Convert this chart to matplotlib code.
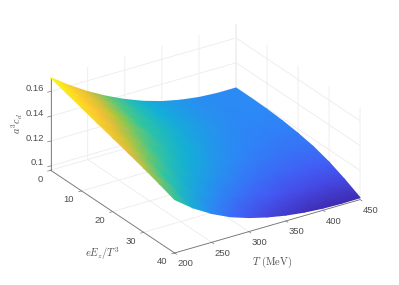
import numpy as np
import matplotlib
matplotlib.use('Agg')
import matplotlib.pyplot as plt
from matplotlib.colors import LinearSegmentedColormap
from mpl_toolkits.mplot3d import proj3d

plt.rcParams['font.family'] = ['Liberation Sans', 'DejaVu Sans']
plt.rcParams['mathtext.fontset'] = 'cm'

T = [200, 225, 250, 275, 300, 325, 350, 375, 400, 425, 450]
E = [0, 5, 10, 15, 20, 25, 30, 35, 40]
# rows = E, columns = T
cd_e0 = [.1710, .1605, .1512, .1432, .1363, .1305, .1260, .1228, .1207, .1197, .1197]
cd_e5 = [.1672, .1574, .1489, .1415, .1352, .1298, .1255, .1225, .1205, .1196, .1196]
cd_e10 = [.1635, .1542, .1464, .1395, .1338, .1288, .1248, .1219, .1200, .1192, .1192]
cd_e15 = [.1597, .1508, .1435, .1371, .1319, .1271, .1234, .1207, .1189, .1181, .1182]
cd_e20 = [.1560, .1474, .1404, .1342, .1293, .1249, .1214, .1188, .1172, .1164, .1165]
cd_e25 = [.1522, .1435, .1366, .1306, .1260, .1218, .1185, .1161, .1146, .1139, .1140]
cd_e30 = [.1483, .1392, .1320, .1259, .1212, .1172, .1141, .1118, .1105, .1098, .1100]
cd_e35 = [.1441, .1342, .1263, .1198, .1150, .1111, .1082, .1061, .1048, .1043, .1045]
cd_e40 = [.1395, .1285, .1197, .1128, .1078, .1040, .1012, .0993, .0982, .0978, .0980]

T_ticks = [200, 250, 300, 350, 400, 450]
E_ticks = [0, 10, 20, 30, 40]
cd_ticks = [0.1, 0.12, 0.14, 0.16]
cd_ticklabels = ['0.1', '0.12', '0.14', '0.16']

parula = LinearSegmentedColormap.from_list('parula', [
    (0.0, (.2422, .1504, .6603)), (0.14, (.2810, .3228, .9579)),
    (0.30, (.1786, .5289, .9682)), (0.45, (.0689, .6948, .8394)),
    (0.58, (.2161, .7843, .5923)), (0.67, (.6720, .7793, .2227)),
    (0.76, (.9970, .7259, .2199)), (1.0, (.9769, .9839, .0805))])

Z = np.array([cd_e0, cd_e5, cd_e10, cd_e15, cd_e20, cd_e25, cd_e30, cd_e35, cd_e40])
X, Y = np.meshgrid(T, E)
z_lo, z_hi = 0.0965, 0.171
text_col = '#4d4d4d'

fig = plt.figure(figsize=(3.99, 2.85), dpi=100)
ax = fig.add_axes([0.005, 0, 1, 1], projection='3d', proj_type='ortho')
ax.view_init(elev=26, azim=-123.3)
ax.set_box_aspect((222, 226, 103), zoom=1.134)
ax.set_xlim(200, 450)
ax.set_ylim(40, 0)
ax.set_zlim(z_lo, z_hi)
ax.set_xticks(T_ticks)
ax.set_yticks(E_ticks)
ax.set_zticks(cd_ticks)
ax.set_xticklabels([])
ax.set_yticklabels([])
ax.set_zticklabels([])
ax.tick_params(color='#777777', width=0.5)
for a in (ax.xaxis, ax.yaxis, ax.zaxis):
    a.set_pane_color((1, 1, 1, 0))
    a.pane.set_edgecolor((1, 1, 1, 0))
    a.line.set_color('#707070')
    a.line.set_linewidth(0.6)
    a._axinfo['grid'].update(color='#ececec', linewidth=0.6)
    a._axinfo['tick'].update(inward_factor=0.2, outward_factor=0.0, linewidth={True: 0.5, False: 0.5})


def to_pixels(xs, ys, zs):
    # data -> top-left pixel coordinates of the figure
    px, py, _ = proj3d.proj_transform(np.ravel(xs).astype(float), np.ravel(ys).astype(float),
                                      np.ravel(zs).astype(float), ax.get_proj())
    d = ax.transData.transform(np.column_stack([px, py]))
    return d[:, 0], 285 - d[:, 1]


# the surface goes on a pixel overlay so it can be gouraud shaded
fig.canvas.draw()
sx, sy = to_pixels(X, Y, Z)
over = fig.add_axes([0, 0, 1, 1], facecolor='none')
over.set_xlim(0, 399)
over.set_ylim(285, 0)
over.axis('off')
over.pcolormesh(sx.reshape(Z.shape), sy.reshape(Z.shape), Z, shading='gouraud',
                cmap=parula, vmin=z_lo, vmax=z_hi)

# tick labels sit where matlab puts them, flat text next to the ticks
tx, ty = to_pixels(T_ticks, [40] * len(T_ticks), [z_lo] * len(T_ticks))
for x, y, t in zip(tx, ty, T_ticks):
    over.text(x + 11, y + 11, str(t), fontsize=6.8, color=text_col, ha='center', va='center')
tx, ty = to_pixels([200] * len(E_ticks), E_ticks, [z_lo] * len(E_ticks))
for x, y, t in zip(tx, ty, E_ticks):
    over.text(x - 7.5, y + 9, str(t), fontsize=6.8, color=text_col, ha='right', va='center')
tx, ty = to_pixels([200] * len(cd_ticks), [0] * len(cd_ticks), cd_ticks)
for x, y, t in zip(tx, ty, cd_ticklabels):
    over.text(x - 7, y - 3, t, fontsize=6.8, color=text_col, ha='right', va='center')

over.text(272, 262, r'$T\ \mathrm{(MeV)}$', fontsize=7.5, color=text_col, ha='center', va='center')
over.text(102, 254, r'$eE_z/T^3$', fontsize=7.5, color=text_col, ha='center', va='center')
over.text(17, 124, r'$a^3c_d$', fontsize=7.5, color=text_col, rotation=90, ha='center', va='center')

fig.savefig('out.png', dpi=100)
